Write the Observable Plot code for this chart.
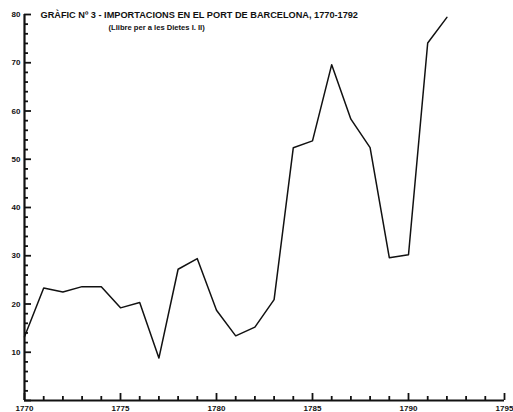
<!DOCTYPE html>
<html>
<head>
<meta charset="utf-8">
<script src="https://cdn.jsdelivr.net/npm/d3@7"></script>
<script src="https://cdn.jsdelivr.net/npm/@observablehq/plot@0.6"></script>
<style>
  html, body { margin: 0; padding: 0; background: #fff; }
  #chart svg { font-family: "Liberation Sans", Arial, sans-serif; font-weight: bold; font-size: 8px; color: #111; }
</style>
</head>
<body>
<div id="chart"></div>
<script>
const years = [1770,1771,1772,1773,1774,1775,1776,1777,1778,1779,1780,1781,1782,1783,1784,1785,1786,1787,1788,1789,1790,1791,1792];
const values = [13.2,23.3,22.5,23.6,23.6,19.2,20.3,8.8,27.2,29.4,18.7,13.4,15.2,20.9,52.4,53.8,69.6,58.3,52.4,29.6,30.2,74.1,79.4];
const xMajorTicks = [1770,1775,1780,1785,1790,1795];
const yMajorTicks = [10,20,30,40,50,60,70,80];
const titleText = "GRÀFIC Nº 3 - IMPORTACIONS EN EL PORT DE BARCELONA, 1770-1792";
const subtitleText = "(Llibre per a les Dietes I. II)";

const data = years.map((y, i) => ({year: y, value: values[i]}));
const xMinor = d3.range(1770, 1796);
const yMinor = d3.range(0, 81, 2);

const W = 513, H = 412, mL = 24, mR = 9, mT = 14, mB = 12;
const xDom = [1770, 1795], yDom = [0, 80];
// tick lengths in pixels, expressed in data units for rules
const pxX = (xDom[1] - xDom[0]) / (W - mL - mR);
const pxY = (yDom[1] - yDom[0]) / (H - mT - mB);

const chart = Plot.plot({
  width: W, height: H,
  marginLeft: mL, marginRight: mR, marginTop: mT, marginBottom: mB,
  x: {domain: xDom},
  y: {domain: yDom},
  marks: [
    Plot.axisX({ticks: xMajorTicks, tickSize: 0, tickPadding: 5, tickFormat: "d", label: null}),
    Plot.axisY({ticks: yMajorTicks, tickSize: 0, tickPadding: 4, label: null}),
    Plot.text([titleText], {frameAnchor: "top-left", dx: 16, dy: 1, textAnchor: "start", lineAnchor: "middle", fontSize: 9.2, fontWeight: "bold", fill: "#111"}),
    Plot.text([subtitleText], {frameAnchor: "top-left", dx: 84, dy: 13, textAnchor: "start", lineAnchor: "middle", fontSize: 7.6, fontWeight: "bold", fill: "#111"}),
    Plot.line(data, {x: "year", y: "value", stroke: "#111", strokeWidth: 1.5}),
    Plot.ruleX(xMinor, {x: d => d, y1: 0, y2: d => (d % 5 === 0 ? 7 : 4) * pxY, stroke: "#111", strokeWidth: 1.8}),
    Plot.ruleY(yMinor, {y: d => d, x1: 1770, x2: d => 1770 + (d % 10 === 0 ? 7 : 4) * pxX, stroke: "#111", strokeWidth: 1.8}),
    Plot.ruleY([0], {stroke: "#111", strokeWidth: 2.2}),
    Plot.ruleX([1770], {stroke: "#111", strokeWidth: 2.2})
  ]
});
document.getElementById("chart").appendChild(chart);
</script>
</body>
</html>
